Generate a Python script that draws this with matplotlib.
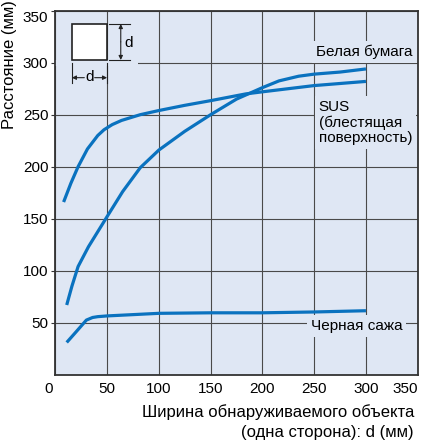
import matplotlib.pyplot as plt
from matplotlib.patches import Rectangle
from matplotlib.transforms import ScaledTranslation

plt.rcParams['font.family'] = ['Liberation Sans', 'DejaVu Sans']

# Белая бумага
paper_x = [11, 16, 22, 32, 50, 65, 82, 100, 125, 150, 175, 200, 216, 235, 250, 275, 300]
paper_y = [67, 85, 104, 123, 152, 176, 199, 216, 234, 250, 265, 276, 282.5, 287, 289, 291, 294]

# SUS (блестящая поверхность)
sus_x = [8, 15, 22, 31, 41, 47, 55, 64, 82, 100, 125, 150, 184, 200, 250, 300]
sus_y = [166, 184, 200, 217, 230, 235.5, 240.5, 244.5, 250, 254, 259, 263.5, 270, 272, 278, 282]

# Черная сажа
soot_x = [11, 19, 30, 36, 41, 50, 100, 150, 200, 250, 300]
soot_y = [31, 40, 52.5, 55, 55.8, 56.5, 59, 59.5, 59.5, 60.3, 61.5]

x_ticks = [0, 50, 100, 150, 200, 250, 300, 350]
y_ticks = [50, 100, 150, 200, 250, 300, 350]

bg = '#dfe7f4'
blue = '#0a72bf'
fs = 11
fs_lab = 12

fig = plt.figure(figsize=(4.21, 4.42), dpi=100)
ax = fig.add_axes([0.1314, 0.1523, 0.8608, 0.8235])
ax.set_facecolor(bg)

for xs, ys in [(paper_x, paper_y), (sus_x, sus_y), (soot_x, soot_y)]:
    ax.plot(xs, ys, color=blue, lw=2.3, solid_capstyle='butt', solid_joinstyle='round', zorder=3)

ax.set_xlim(0, 350)
ax.set_ylim(0, 350)
ax.set_xticks(x_ticks)
ax.set_yticks(y_ticks)
ax.grid(True, color='#4a4a4a', lw=0.8, zorder=1)
ax.set_axisbelow(True)
ax.tick_params(axis='y', direction='out', length=3, width=0.8, color='#333333', pad=2, labelsize=fs)
ax.tick_params(axis='x', length=0, pad=5, labelsize=fs)
for s in ax.spines.values():
    s.set_color('#333333')
    s.set_linewidth(1.3)

# подписи крайних делений
xl = ax.get_xticklabels()
xl[0].set_horizontalalignment('right')
xl[0].set_transform(xl[0].get_transform() + ScaledTranslation(-2 / 72, 0, fig.dpi_scale_trans))
xl[-1].set_horizontalalignment('right')
xl[-1].set_transform(xl[-1].get_transform() + ScaledTranslation(0, 0, fig.dpi_scale_trans))
yl = ax.get_yticklabels()
yl[-1].set_verticalalignment('top')

# подписи кривых
box = dict(boxstyle='square,pad=0.25', fc=bg, ec='none')
ax.text(252, 310.5, 'Белая бумага', fontsize=fs, va='center', ha='left', bbox=box, zorder=2)
ax.text(254.5, 264, 'SUS\n(блестящая\nповерхность)', fontsize=fs, va='top', ha='left',
        linespacing=1.1, bbox=box, zorder=2)
ax.text(246.5, 46.8, 'Черная сажа', fontsize=fs, va='center', ha='left', bbox=box, zorder=2)

# значок объекта со стороной d
ax.add_patch(Rectangle((0, 297), 80, 6, fc=bg, ec='none', zorder=1.5))
ax.add_patch(Rectangle((16, 302.6), 34, 34.6, fc='white', ec='#222222', lw=1.2, zorder=4))
ax.plot([52, 72], [337.2, 337.2], color='#222222', lw=0.8, zorder=4)
ax.plot([52, 72], [302.6, 302.6], color='#222222', lw=0.8, zorder=4)
arr = dict(arrowstyle='-|>', color='#222222', lw=0.8, mutation_scale=6, shrinkA=0, shrinkB=0)
ax.annotate('', xy=(63.2, 337.2), xytext=(63.2, 320), arrowprops=arr, zorder=4)
ax.annotate('', xy=(63.2, 302.6), xytext=(63.2, 320), arrowprops=arr, zorder=4)
ax.text(67, 318.7, 'd', fontsize=fs, va='center', ha='left', zorder=4)
ax.plot([16, 16], [299.5, 280.5], color='#222222', lw=0.8, zorder=4)
ax.plot([50, 50], [299.5, 280.5], color='#222222', lw=0.8, zorder=4)
ax.annotate('', xy=(16, 285.6), xytext=(28, 285.6), arrowprops=arr, zorder=4)
ax.annotate('', xy=(50, 285.6), xytext=(38, 285.6), arrowprops=arr, zorder=4)
ax.text(33, 286, 'd', fontsize=fs, va='center', ha='center', zorder=4)

fig.text(10 / 421, 1 - 0.5 / 442, 'Расстояние (мм)', rotation=90, fontsize=fs_lab,
         ha='center', va='top')
fig.text(414 / 421, 1 - 412.5 / 442, 'Ширина обнаруживаемого объекта', fontsize=fs_lab,
         ha='right', va='center')
fig.text(414 / 421, 1 - 433 / 442, '(одна сторона): d (мм)', fontsize=fs_lab,
         ha='right', va='center')

fig.savefig('out.png', dpi=100)
